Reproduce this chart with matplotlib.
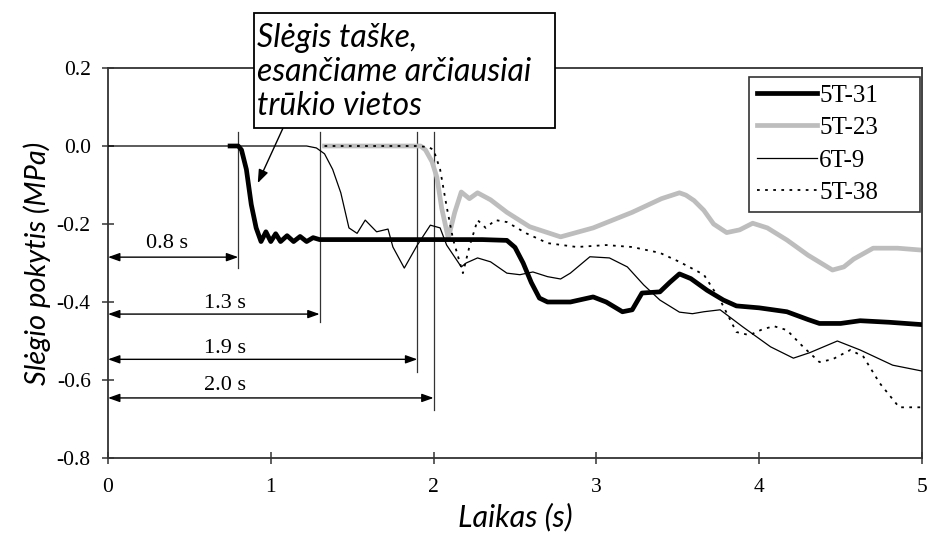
import matplotlib
matplotlib.use("Agg")
import matplotlib.pyplot as plt
from matplotlib.patches import Rectangle

# Pressure change traces (time in s, pressure change in MPa)
t_5t31 = [0.75, 0.80, 0.82, 0.85, 0.88, 0.91, 0.94, 0.97, 1.00, 1.03, 1.06, 1.10, 1.14,
          1.18, 1.22, 1.26, 1.30, 1.60, 2.00, 2.30, 2.45, 2.50, 2.55, 2.60, 2.65, 2.70,
          2.84, 2.98, 3.06, 3.16, 3.22, 3.28, 3.39, 3.45, 3.51, 3.58, 3.68, 3.78, 3.86,
          4.00, 4.17, 4.30, 4.37, 4.50, 4.62, 4.80, 5.00]
p_5t31 = [0.0, 0.0, -0.01, -0.06, -0.15, -0.21, -0.245, -0.22, -0.245, -0.225, -0.245, -0.23,
          -0.245, -0.232, -0.245, -0.235, -0.24, -0.24, -0.24, -0.24, -0.242, -0.26, -0.30,
          -0.35, -0.39, -0.40, -0.40, -0.387, -0.40, -0.425, -0.42, -0.377, -0.374, -0.35,
          -0.328, -0.34, -0.37, -0.395, -0.41, -0.415, -0.425, -0.445, -0.455, -0.455,
          -0.448, -0.452, -0.458]

t_5t23 = [1.33, 1.60, 1.85, 1.92, 1.95, 1.99, 2.02, 2.05, 2.09, 2.13, 2.17, 2.22, 2.27, 2.35,
          2.45, 2.59, 2.78, 2.98, 3.22, 3.40, 3.51, 3.55, 3.60, 3.66, 3.72, 3.80, 3.88, 3.96,
          4.05, 4.17, 4.30, 4.45, 4.52, 4.58, 4.70, 4.85, 5.00]
p_5t23 = [0.0, 0.0, 0.0, 0.0, -0.01, -0.04, -0.08, -0.16, -0.236, -0.17, -0.118, -0.135,
          -0.12, -0.138, -0.17, -0.207, -0.233, -0.21, -0.17, -0.135, -0.12, -0.126, -0.14,
          -0.165, -0.20, -0.222, -0.215, -0.198, -0.21, -0.241, -0.28, -0.318, -0.31,
          -0.29, -0.262, -0.262, -0.267]

t_6t9 = [0.0, 1.22, 1.28, 1.33, 1.38, 1.43, 1.48, 1.53, 1.58, 1.65, 1.72, 1.75, 1.82, 1.90,
         1.98, 2.04, 2.08, 2.17, 2.20, 2.27, 2.35, 2.45, 2.53, 2.61, 2.70, 2.78, 2.84, 2.96,
         3.08, 3.19, 3.29, 3.39, 3.51, 3.59, 3.66, 3.76, 3.90, 4.07, 4.21, 4.31, 4.48, 4.62,
         4.82, 5.00]
p_6t9 = [0.0, 0.0, -0.005, -0.02, -0.06, -0.12, -0.21, -0.224, -0.19, -0.22, -0.213, -0.259,
         -0.313, -0.254, -0.203, -0.21, -0.254, -0.31, -0.30, -0.287, -0.297, -0.326, -0.33,
         -0.323, -0.335, -0.341, -0.326, -0.284, -0.287, -0.31, -0.356, -0.395, -0.426,
         -0.43, -0.425, -0.42, -0.464, -0.515, -0.544, -0.53, -0.50, -0.523, -0.562, -0.577]

t_5t38 = [1.33, 1.60, 1.90, 1.97, 2.00, 2.04, 2.08, 2.12, 2.18, 2.22, 2.27, 2.32, 2.38, 2.45,
          2.57, 2.70, 2.88, 3.06, 3.22, 3.39, 3.51, 3.66, 3.76, 3.86, 3.94, 4.02, 4.09, 4.17,
          4.27, 4.37, 4.45, 4.56, 4.64, 4.74, 4.86, 5.00]
p_5t38 = [0.0, 0.0, 0.0, -0.003, -0.01, -0.06, -0.155, -0.24, -0.326, -0.258, -0.19, -0.21,
          -0.19, -0.195, -0.224, -0.249, -0.259, -0.254, -0.259, -0.274, -0.297, -0.33,
          -0.395, -0.477, -0.485, -0.47, -0.462, -0.472, -0.515, -0.554, -0.547, -0.523,
          -0.54, -0.608, -0.67, -0.67]

# Delay markers: time to reach each gauge
delays = [0.8, 1.3, 1.9, 2.0]
delay_labels = ["0.8 s", "1.3 s", "1.9 s", "2.0 s"]
delay_arrow_y = [-0.285, -0.431, -0.547, -0.646]
delay_line_bottom = [-0.313, -0.45, -0.58, -0.677]
delay_label_y = [-0.25, -0.405, -0.52, -0.615]

x_ticks = [0, 1, 2, 3, 4, 5]
y_ticks = [0.2, 0.0, -0.2, -0.4, -0.6, -0.8]

serif = "Liberation Serif"
sans_it = dict(family="Lato", style="italic")

fig = plt.figure(figsize=(9.28, 5.37), dpi=100)
ax = fig.add_axes([108 / 928, 1 - 458 / 537, (922 - 108) / 928, (458 - 68) / 537])

ax.plot(t_5t31, p_5t31, color="black", lw=3.4, label="5T-31", zorder=4, solid_joinstyle="round")
ax.plot(t_5t23, p_5t23, color="#bdbdbd", lw=3.4, label="5T-23", zorder=2, solid_joinstyle="round")
ax.plot(t_6t9, p_6t9, color="black", lw=0.9, label="6T-9", zorder=3)
ax.plot(t_5t38, p_5t38, color="black", lw=1.3, ls=(0, (1.5, 3)), label="5T-38", zorder=3)

ax.set_xlim(0, 5)
ax.set_ylim(-0.8, 0.2)
ax.set_xticks(x_ticks)
ax.set_yticks(y_ticks)
ax.set_xticklabels([str(v) for v in x_ticks], fontfamily=serif, fontsize=15.5)
ax.set_yticklabels([f"{v:.1f}" for v in y_ticks], fontfamily=serif, fontsize=15.5)
ax.tick_params(direction="inout", length=9, width=1.1, color="#333333", pad=8)
ax.tick_params(axis="x", pad=10)
for s in ax.spines.values():
    s.set_color("#333333")
    s.set_linewidth(1.3)

ax.set_xlabel("Laikas (s)", fontsize=22, labelpad=4, **sans_it)
ax.set_ylabel("Slėgio pokytis (MPa)", fontsize=21, labelpad=4, **sans_it)

# Delay dimension lines
for d, lab, ya, yb, yl in zip(delays, delay_labels, delay_arrow_y, delay_line_bottom, delay_label_y):
    ax.plot([d, d], [0.036, yb], color="#333333", lw=0.9, zorder=1)
    ax.annotate("", xy=(d, ya), xytext=(0.0, ya),
                arrowprops=dict(arrowstyle="<|-|>,head_length=0.7,head_width=0.25",
                                color="black", lw=1.0, shrinkA=0, shrinkB=0))
    ax.text(0.36 if lab == "0.8 s" else 0.72, yl, lab, fontfamily=serif, fontsize=16,
            ha="center", va="center")

leg = ax.legend(loc="upper left", bbox_to_anchor=(0.7875, 0.0, 0.2105, 0.978), mode="expand",
                prop=dict(family=serif, size=18), frameon=True, fancybox=False,
                edgecolor="black", handlelength=2.4, handletextpad=0.1, labelspacing=0.4,
                borderpad=0.3, borderaxespad=0)
leg.get_frame().set_linewidth(1.2)

# Callout box with arrow pointing to the first gauge trace
fig.patches.append(Rectangle((254 / 928, 1 - 128 / 537), (555 - 254) / 928, (128 - 13) / 537,
                             transform=fig.transFigure, facecolor="white", edgecolor="black",
                             lw=1.3, zorder=10))
fig.text(257 / 928, 1 - 72 / 537, "Slėgis taške,\nesančiame arčiausiai\ntrūkio vietos",
         fontsize=23, ha="left", va="center", linespacing=1.15, zorder=11, **sans_it)
ax.annotate("", xy=(0.92, -0.095), xytext=(1.075, 0.046),
            arrowprops=dict(arrowstyle="-|>,head_length=0.8,head_width=0.3", color="black",
                            lw=1.0, shrinkA=0, shrinkB=0), zorder=6)

fig.savefig("out.png", dpi=100)
